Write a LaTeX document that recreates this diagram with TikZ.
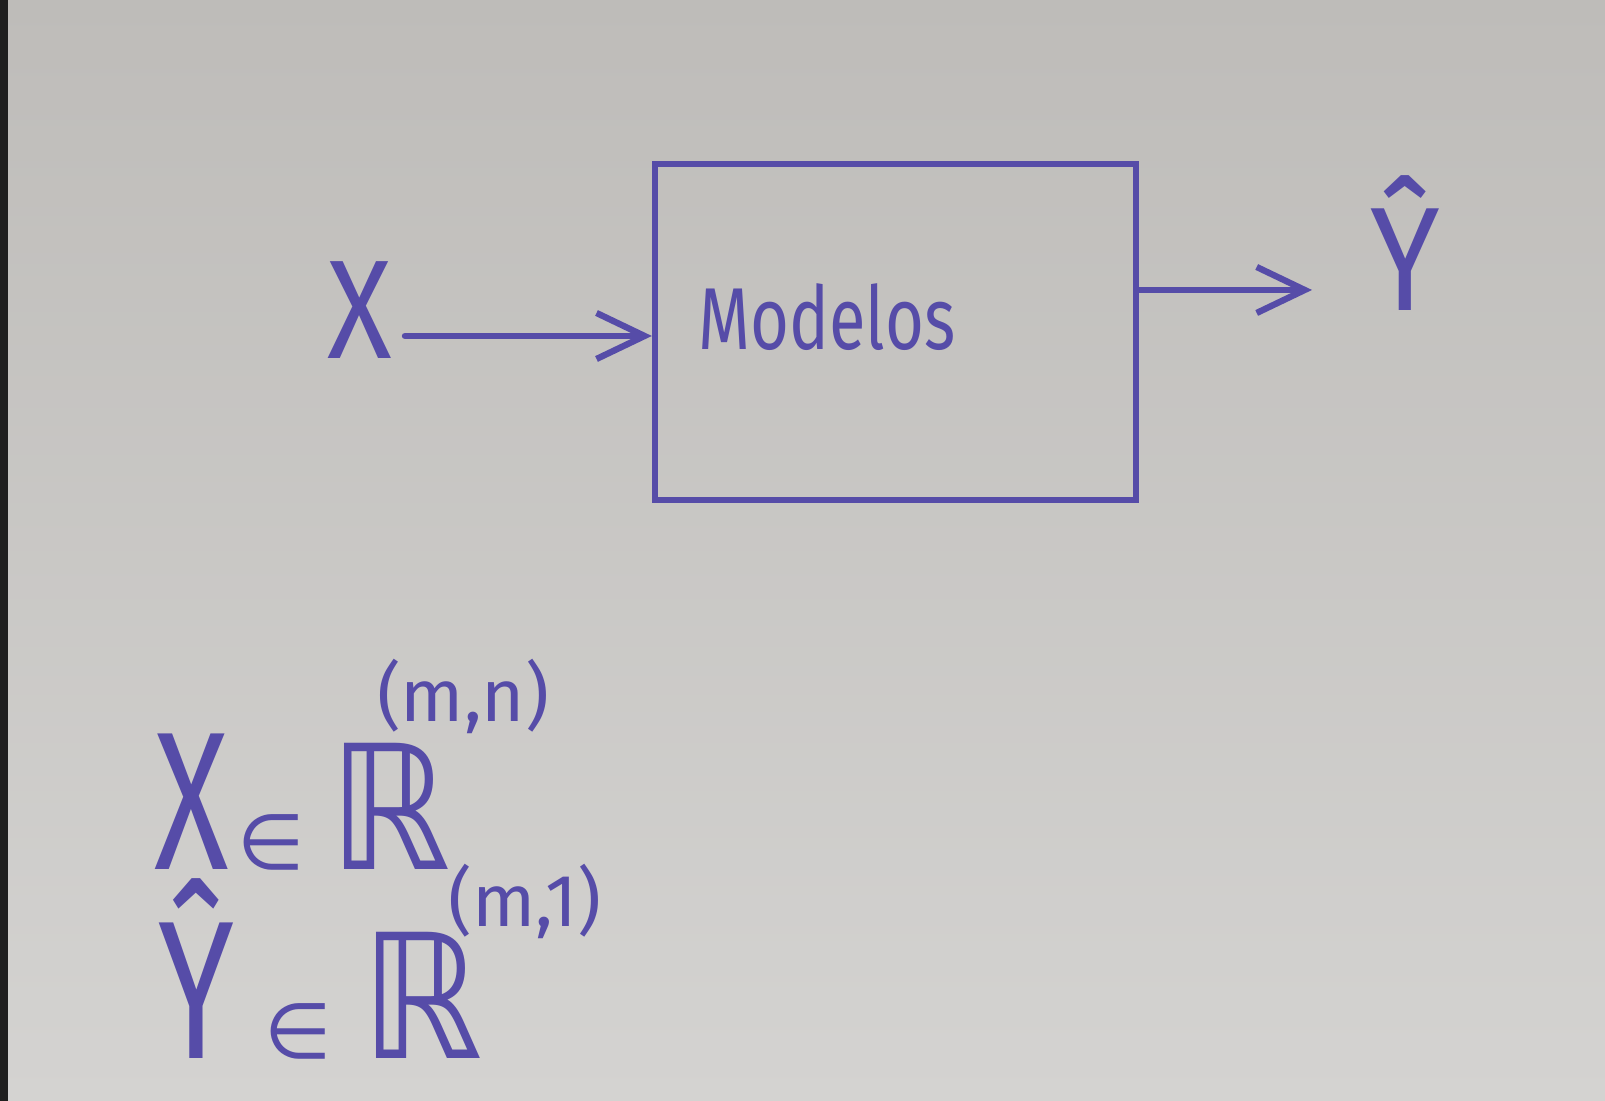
\documentclass[tikz,border=0pt]{standalone}
\usepackage{fontspec}
\usepackage{graphicx}
\usepackage{xcolor}
\usetikzlibrary{arrows.meta,calc,positioning}
\setmainfont{Fira Sans}
\newfontfamily\symfont{DejaVu Sans}
\definecolor{ink}{RGB}{86,76,168}
\definecolor{bgtop}{RGB}{190,188,185}
\definecolor{bgmid}{RGB}{222,221,217}
\definecolor{bgbot}{RGB}{212,211,209}
\newcommand{\bigfs}{\fontsize{56}{56}\selectfont}
\newcommand{\midfs}{\fontsize{22}{22}\selectfont}
\newcommand{\supfs}{\fontsize{21}{21}\selectfont}
\newcommand{\dsR}{\scalebox{0.78}[0.88]{\symfont\bigfs ℝ}}

\begin{document}
\begin{tikzpicture}[
    >={Straight Barb[length=4.8mm,width=4.6mm]},
    ink/.style={text=ink, inner sep=0pt},
    flow/.style={->, draw=ink, line width=1.8pt, line cap=round},
    modelbox/.style={rectangle, draw=ink, line width=1.8pt, minimum width=4.81cm, minimum height=3.36cm}
  ]
    \shade[top color=bgtop, middle color=bgmid, bottom color=bgbot] (0,0) rectangle (16.05,11.01);
    \fill[black!88] (0,0) rectangle (0.08,11.01);
    \useasboundingbox (0,0) rectangle (16.05,11.01);
    \node[modelbox] (model) at (8.955,7.69) {};
    \node[ink, font=\fontsize{25}{25}\selectfont, anchor=north west, below right=1.22cm and 0.46cm of model.north west] (lbl) {\scalebox{0.76}[1]{Modelos}};
    \node[ink, font=\fontsize{40}{40}\selectfont] (xin) at (3.60,7.91) {\scalebox{0.85}[1]{X}};
    \node[ink, font=\fontsize{40}{40}\selectfont] (yhat) at (14.05,8.58) {\scalebox{0.9}[1.05]{Ŷ}};
    \coordinate (aout) at (13.12,8.11);
    \draw[flow] ([yshift=-2.6mm]xin.east) ++(0.12,0) -- ([yshift=-2.6mm]xin.east -| model.west);
    \draw[flow] (model.east |- aout) -- (aout);
    % formulas
    \node[ink, anchor=base west] (xset) at (1.54,2.31) {\scalebox{0.7}[1]{\bigfs X}\hspace{0.8mm}{\symfont\midfs ∈}\hspace{2.5mm}\dsR\hspace{-7.4mm}\raisebox{14.8mm}{\supfs (m,n)}};
    \node[ink, anchor=base west] (yset) at (1.58,0.42) {\scalebox{0.7}[1]{\bigfs Ŷ}\hspace{3mm}{\symfont\midfs ∈}\hspace{3mm}\dsR\hspace{-3.5mm}\raisebox{13.2mm}{\supfs (m,1)}};
\end{tikzpicture}
\end{document}
